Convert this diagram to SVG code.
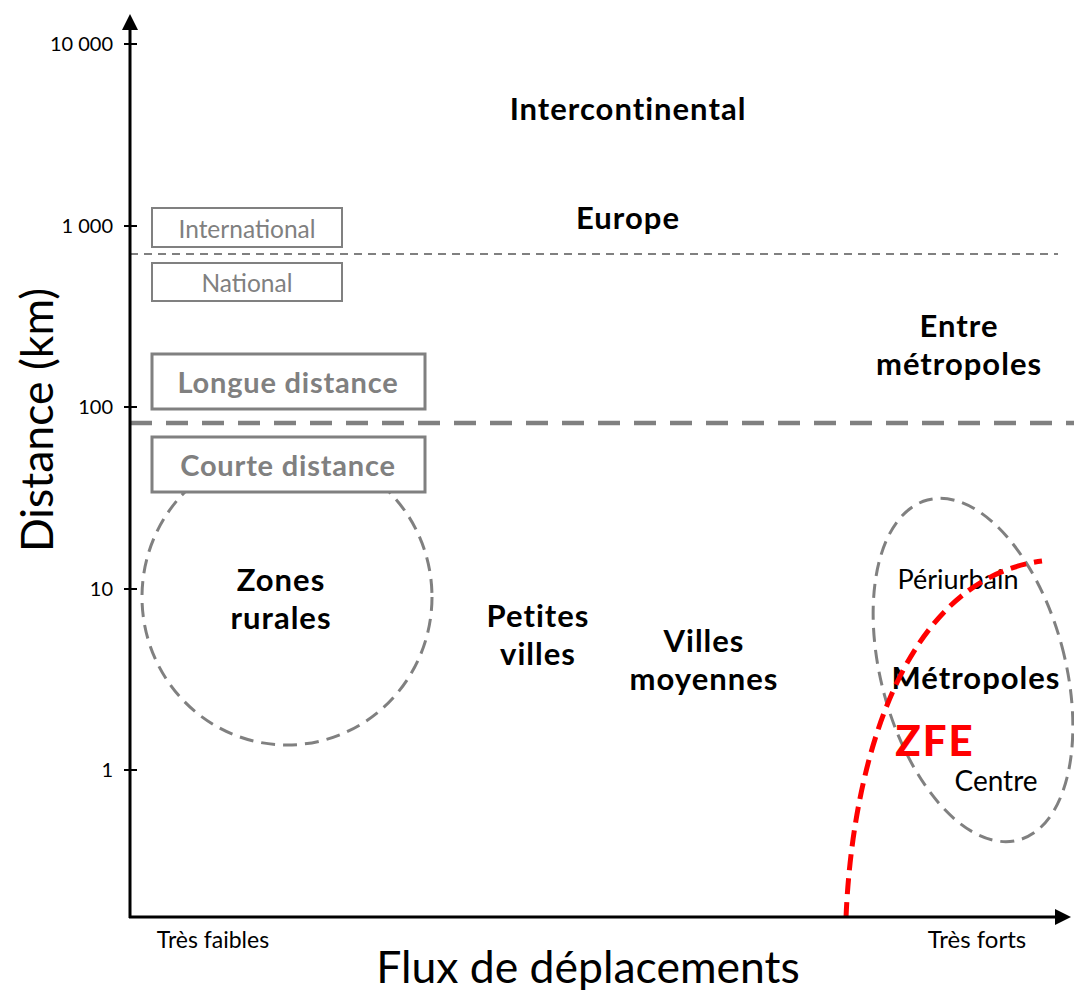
<svg xmlns="http://www.w3.org/2000/svg" width="1074" height="990" viewBox="0 0 1074 990">
<style>
text{font-family:Lato,"Open Sans","Liberation Sans",sans-serif;}
.b{font-weight:bold;font-size:31px;letter-spacing:1px;fill:#000;text-anchor:middle;}
.tick{font-size:20px;text-anchor:end;fill:#000;}
.box{fill:#fff;stroke:#808080;}
.gl{fill:#808080;text-anchor:middle;}
.dash{fill:none;stroke:#808080;stroke-width:3;stroke-dasharray:14 8;}
</style>
<defs>
<marker id="arr" viewBox="0 0 16 16" refX="2" refY="8" markerWidth="16" markerHeight="16" markerUnits="userSpaceOnUse" orient="auto">
<path d="M0 0 L16 8 L0 16 Z" fill="#000"/>
</marker>
</defs>
<rect width="1074" height="990" fill="#fff"/>

<g id="connectors">
<line x1="130" y1="254" x2="1058" y2="254" stroke="#808080" stroke-width="2" stroke-dasharray="8 6"/>
<line x1="130" y1="423" x2="1074" y2="423" stroke="#808080" stroke-width="4.5" stroke-dasharray="22 14"/>
</g>

<g id="zones-rurales">
<ellipse class="dash" cx="287" cy="597" rx="145" ry="148"/>
<text class="b" x="281" y="591">Zones</text>
<text class="b" x="281" y="629">rurales</text>
</g>

<g id="metropoles">
<ellipse class="dash" cx="973" cy="670" rx="92" ry="176" transform="rotate(-15 973 670)"/>
<text x="958" y="589" font-size="27" text-anchor="middle">Périurbain</text>
<text class="b" x="976" y="689">Métropoles</text>
<text x="996" y="791" font-size="28" text-anchor="middle">Centre</text>
</g>

<g id="zfe">
<path d="M846 918 C852 770 900 580 1042 561" fill="none" stroke="#ff0000" stroke-width="5" stroke-dasharray="16 8"/>
<text x="935" y="756" font-size="42" font-weight="900" letter-spacing="2" fill="#ff0000" text-anchor="middle">ZFE</text>
</g>

<g id="international">
<rect class="box" x="152" y="208" width="190" height="39" stroke-width="2"/>
<text class="gl" x="247" y="238" font-size="24.5">International</text>
</g>
<g id="national">
<rect class="box" x="152" y="263" width="190" height="38" stroke-width="2"/>
<text class="gl" x="247" y="292" font-size="24.5">National</text>
</g>
<g id="longue-distance">
<rect class="box" x="152" y="354" width="273" height="55" stroke-width="3"/>
<text class="gl" x="288" y="393" font-size="29" font-weight="bold" letter-spacing="0.8">Longue distance</text>
</g>
<g id="courte-distance">
<rect class="box" x="152" y="437" width="273" height="55" stroke-width="3"/>
<text class="gl" x="288" y="476" font-size="29" font-weight="bold" letter-spacing="0.8">Courte distance</text>
</g>

<g id="intercontinental"><text class="b" x="628" y="120">Intercontinental</text></g>
<g id="europe"><text class="b" x="628" y="229">Europe</text></g>
<g id="entre-metropoles">
<text class="b" x="959" y="337">Entre</text>
<text class="b" x="959" y="375">métropoles</text>
</g>
<g id="petites-villes">
<text class="b" x="538" y="627">Petites</text>
<text class="b" x="538" y="665">villes</text>
</g>
<g id="villes-moyennes">
<text class="b" x="704" y="652">Villes</text>
<text class="b" x="704" y="690">moyennes</text>
</g>

<g id="axes">
<line x1="130" y1="918" x2="130" y2="28" stroke="#000" stroke-width="3" marker-end="url(#arr)"/>
<line x1="129" y1="917" x2="1057" y2="917" stroke="#000" stroke-width="3" marker-end="url(#arr)"/>
<g stroke="#000" stroke-width="2">
<line x1="124" y1="44" x2="137" y2="44"/>
<line x1="124" y1="226" x2="137" y2="226"/>
<line x1="124" y1="407" x2="137" y2="407"/>
<line x1="124" y1="589" x2="137" y2="589"/>
<line x1="124" y1="770" x2="137" y2="770"/>
</g>
<text class="tick" x="113" y="51">10 000</text>
<text class="tick" x="113" y="233">1 000</text>
<text class="tick" x="113" y="414">100</text>
<text class="tick" x="113" y="596">10</text>
<text class="tick" x="113" y="777">1</text>
<text x="213" y="948" font-size="23" text-anchor="middle">Très faibles</text>
<text x="977" y="948" font-size="24" text-anchor="middle">Très forts</text>
<text x="588" y="983" font-size="44.5" text-anchor="middle">Flux de déplacements</text>
<text x="0" y="0" font-size="44.5" text-anchor="middle" transform="translate(53 420) rotate(-90)">Distance (km)</text>
</g>
</svg>
